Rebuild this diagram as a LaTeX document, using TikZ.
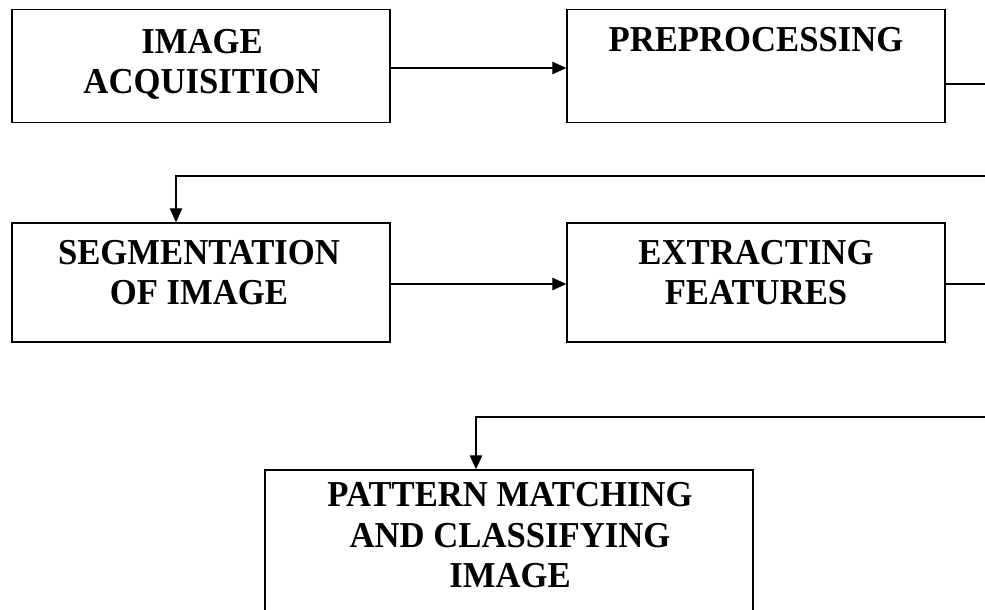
\documentclass[tikz,border=0pt]{standalone}
\usepackage{fontspec}
\setmainfont[FakeStretch=0.95]{Liberation Serif}
\usetikzlibrary{arrows.meta,calc}
\begin{document}
\begin{tikzpicture}[x=1pt,y=-1pt,
  box/.style={draw,line width=1.4pt,rectangle,inner sep=0pt},
  lbl/.style={font=\bfseries\fontsize{36.5}{40.5}\selectfont,align=center,inner sep=0pt,anchor=north},
  conn/.style={line width=1.2pt},
  arr/.style={line width=1.2pt,-{Triangle[length=14pt,width=12.5pt]}}]
\useasboundingbox (0,0) rectangle (985,610);
\clip (0,0) rectangle (985,610);
% boxes
\node[box,minimum width=378pt,minimum height=113pt] (b1) at (201,66) {};
\node[box,minimum width=378pt,minimum height=113pt] (b2) at (756,66) {};
\node[box,minimum width=378pt,minimum height=119pt] (b3) at (201,282.5) {};
\node[box,minimum width=378pt,minimum height=119pt] (b4) at (756,282.5) {};
\node[box,minimum width=488pt,minimum height=180pt] (b5) at (509,560) {};
% texts
\node[lbl] (t1) at (202,29) {IMAGE\\ACQUISITION};
\node[lbl] (t2) at (756,27.5) {PREPROCESSING};
\node[lbl] (t3) at (199,240) {SEGMENTATION\\OF IMAGE};
\node[lbl] (t4) at (756,240) {EXTRACTING\\FEATURES};
\node[lbl] (t5) at (510,482.5) {PATTERN MATCHING\\AND CLASSIFYING\\IMAGE};
% free-end coordinates
\coordinate (e1) at (985,84);
\coordinate (e2) at (985,176);
\coordinate (k2) at (176,176);
\coordinate (e3) at (985,284);
\coordinate (e4) at (985,417);
\coordinate (k4) at (476,417);
% connectors
\draw[arr] (b1.east |- 0,68) -- (b2.west |- 0,68);
\draw[conn] (b2.east |- e1) -- (e1);
\draw[arr] (e2) -- (k2) -- (k2 |- b3.north);
\draw[arr] (b3.east |- 0,284) -- (b4.west |- 0,284);
\draw[conn] (b4.east |- e3) -- (e3);
\draw[arr] (e4) -- (k4) -- (k4 |- b5.north);
\end{tikzpicture}
\end{document}
